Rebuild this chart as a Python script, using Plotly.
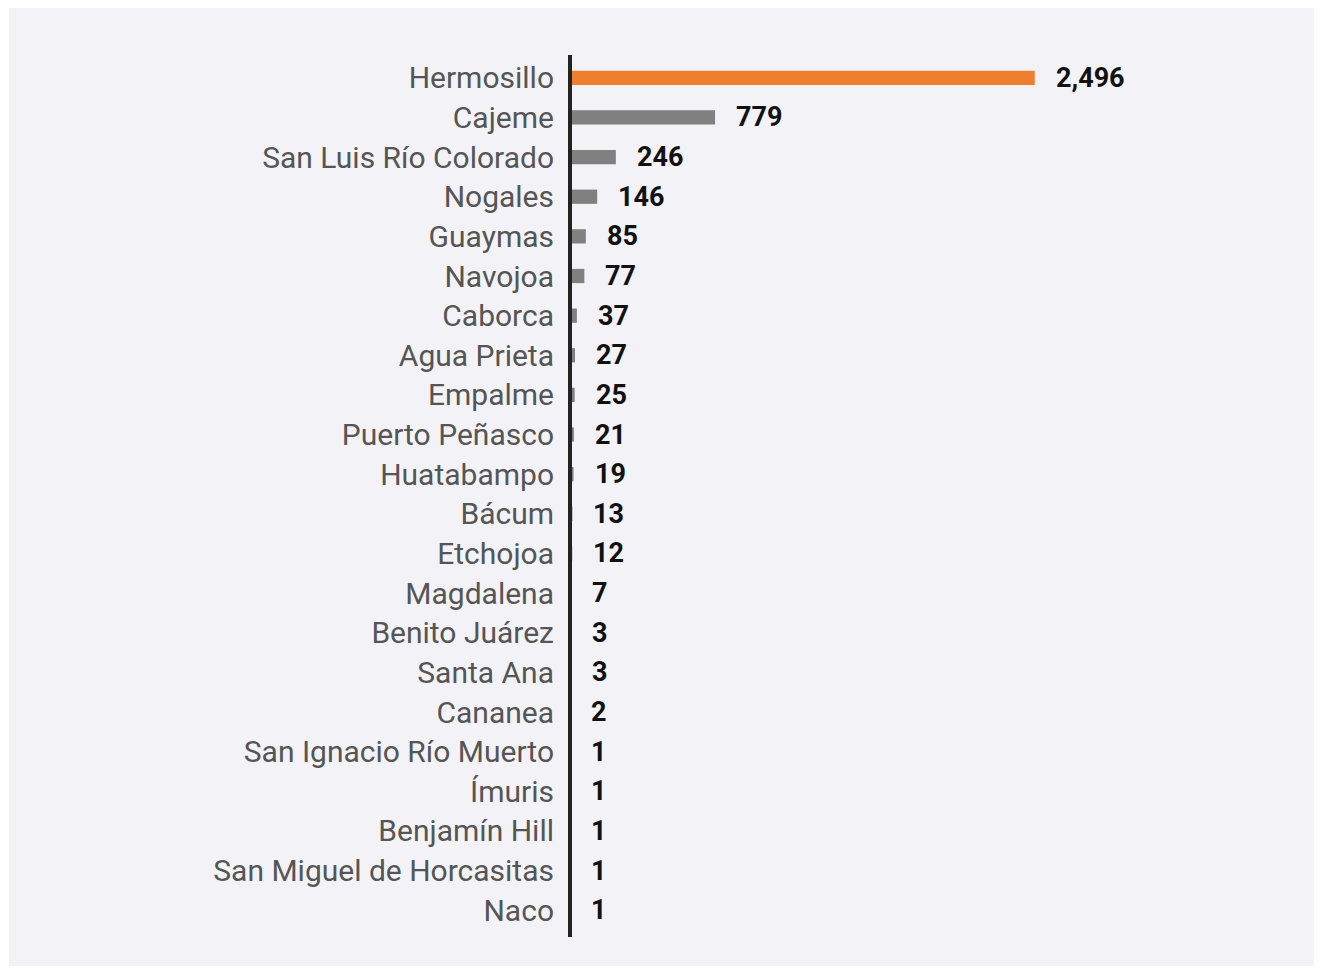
import plotly.graph_objects as go

# Municipalities and counts, top to bottom as in the chart
municipios = [
    "Hermosillo", "Cajeme", "San Luis Río Colorado", "Nogales", "Guaymas",
    "Navojoa", "Caborca", "Agua Prieta", "Empalme", "Puerto Peñasco",
    "Huatabampo", "Bácum", "Etchojoa", "Magdalena", "Benito Juárez",
    "Santa Ana", "Cananea", "San Ignacio Río Muerto", "Ímuris",
    "Benjamín Hill", "San Miguel de Horcasitas", "Naco",
]
casos = [2496, 779, 246, 146, 85, 77, 37, 27, 25, 21, 19, 13, 12, 7, 3, 3,
         2, 1, 1, 1, 1, 1]

# page body adds an 8px margin, so the figure is a bit smaller than the window
W, H = 1314, 960
L, R, T, B = 562, 212, 50, 38
plot_w = W - L - R
plot_h = H - T - B

colors = ["#ef7f2f" if i == 0 else "#808080" for i in range(len(casos))]

fig = go.Figure(go.Bar(
    x=casos, y=municipios, orientation="h",
    marker=dict(color=colors, line=dict(width=0)),
    hoverinfo="x+y",
))

# value labels next to each bar
for name, val in zip(municipios, casos):
    fig.add_annotation(
        x=val, y=name, text=f"{val:,}", showarrow=False,
        xanchor="left", xshift=19,
        font=dict(family="Roboto", size=27, color="#111111", weight="bold"),
    )


def px_x(p):
    return (p - L) / plot_w


def px_y(p):
    return (T + plot_h - p) / plot_h


# grey panel behind the chart
fig.add_shape(type="rect", xref="paper", yref="paper",
              x0=px_x(1), x1=px_x(1312), y0=px_y(958), y1=px_y(0),
              fillcolor="#f3f3f7", line=dict(width=0), layer="below")
# vertical axis line
fig.add_shape(type="line", xref="paper", yref="paper",
              x0=px_x(562), x1=px_x(562), y0=px_y(929), y1=px_y(47),
              line=dict(color="#222222", width=4))

fig.update_layout(
    width=W, height=H,
    margin=dict(l=L, r=R, t=T, b=B),
    paper_bgcolor="white",
    plot_bgcolor="rgba(0,0,0,0)",
    bargap=0.64,
    showlegend=False,
    font=dict(family="Roboto"),
)
fig.update_xaxes(range=[0, 2900], visible=False, fixedrange=True)
fig.update_yaxes(
    autorange="reversed", showgrid=False, zeroline=False, showline=False,
    ticks="outside", ticklen=9, tickcolor="rgba(0,0,0,0)",
    tickfont=dict(family="Roboto", size=30, color="#555555"),
)

fig.write_html("out.html")
